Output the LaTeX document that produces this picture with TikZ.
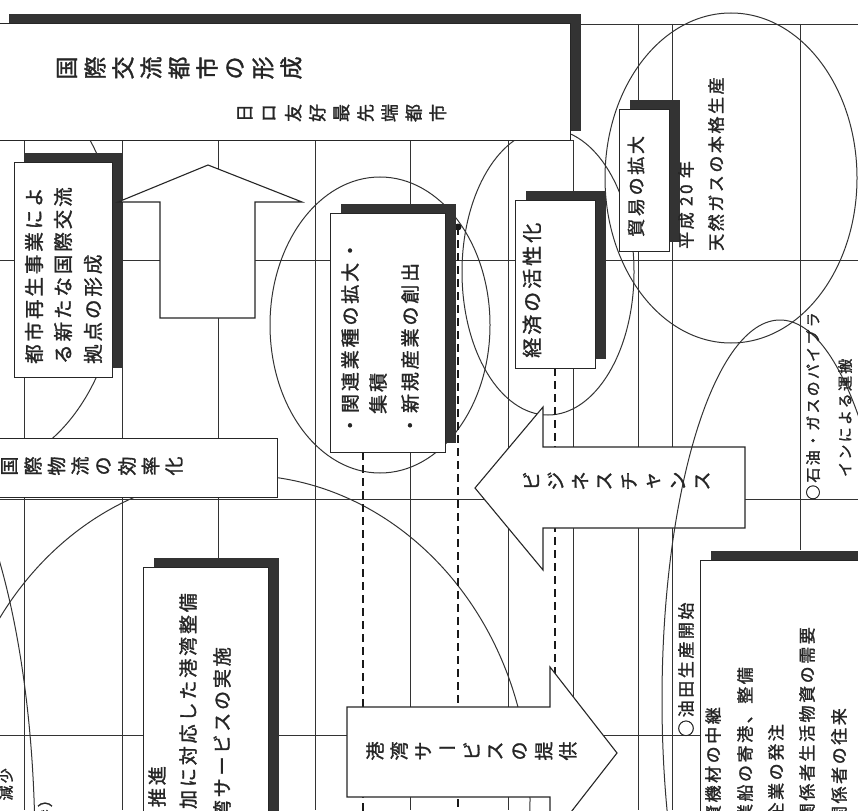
\documentclass[tikz,border=0pt]{standalone}
\usepackage{fontspec}
\usetikzlibrary{shadows}
\newfontfamily\jp[LetterSpace=15, FakeBold=1.5]{Noto Sans CJK JP}
\newfontfamily\jpg[FakeBold=1.5]{Noto Sans CJK JP}
\newcommand\jfs[1]{\fontsize{#1pt}{#1pt}\selectfont}
\tikzset{
  gridline/.style={draw=black!80, line width=0.9pt},
  ell/.style={draw=black!80, line width=1pt},
  boxw/.style={draw=black!85, line width=1.1pt, fill=white, inner sep=0pt, anchor=north west},
  sh/.style={general shadow={fill=black!80, shadow xshift=10pt, shadow yshift=10pt}},
  arrowshape/.style={draw=black!85, line width=1.1pt, fill=white},
  dashl/.style={draw=black!90, line width=2.6pt, dash pattern=on 8pt off 5pt},
  coltext/.style={rotate=90, inner sep=0pt, text=black!85},
  rglyph/.style={inner sep=0pt, text=black!85},
}
\begin{document}
\begin{tikzpicture}[x=1pt,y=-1pt]
\fill[white] (0,0) rectangle (858,810);
\useasboundingbox (0,0) rectangle (858,810);
\clip (0,0) rectangle (858,810);

% table grid
\draw[gridline] (0,24) -- (858,24);
\draw[gridline] (0,140) -- (573,140);
\draw[gridline] (0,260) -- (858,260);
\draw[gridline] (0,499) -- (858,499);
\draw[gridline] (0,735) -- (700,735);
\foreach \gx in {24,122,218,315,410,508,573}
  \draw[gridline] (\gx,140) -- (\gx,810);
\foreach \gx in {638,672}
  \draw[gridline] (\gx,24) -- (\gx,810);
\draw[gridline] (800,24) -- (800,550);

% ellipses
\draw[ell] (-25,265) ellipse [x radius=145pt, y radius=205pt];
\draw[ell] (380,325) ellipse [x radius=110pt, y radius=148pt];
\draw[ell] (548,272) ellipse [x radius=86pt, y radius=143pt];
\draw[ell] (731,178) ellipse [x radius=126pt, y radius=165pt];
\draw[ell] (240,800) ellipse [x radius=290pt, y radius=325pt];
\draw[ell] (-105,850) ellipse [x radius=140pt, y radius=434pt];

% dashed connectors
\coordinate (d1a) at (363,452); \coordinate (d1b) at (363,812);
\coordinate (d2a) at (458,227); \coordinate (d2b) at (458,812);
\coordinate (d3a) at (555,368); \coordinate (d3b) at (555,812);
\draw[dashl] (d1a) -- (d1b);
\draw[dashl] (d2a) -- (d2b);
\draw[dashl] (d3a) -- (d3b);
\fill[black!90] (d2a) circle (3.5pt);

% boxes
\node[boxw, sh, minimum width=572pt, minimum height=117pt] (topbox) at (-2,23) {};
\node[boxw, sh, minimum width=98pt, minimum height=215pt] (toshi) at (14,162) {};
\node[boxw, sh, minimum width=115pt, minimum height=239pt] (kanren) at (330,213) {};
\node[boxw, sh, minimum width=80pt, minimum height=168pt] (keizai) at (515,200) {};
\node[boxw, sh, minimum width=50pt, minimum height=142pt] (boeki) at (619,109) {};
\node[boxw, sh, minimum width=125pt, minimum height=260pt] (kowanbox) at (143,567) {};
\node[boxw, minimum width=282pt, minimum height=59pt] (butsuryu) at (-5,438) {};

% block arrows
\draw[arrowshape] (208,165) -- (302,202) -- (255,202) -- (255,318) -- (160,318) -- (160,202) -- (118,202) -- cycle;
\draw[arrowshape] (475,488) -- (543,407) -- (543,447) -- (745,447) -- (745,528) -- (543,528) -- (543,570) -- cycle;
\draw[arrowshape] (347,707) -- (550,707) -- (550,667) -- (617,753) -- (550,839) -- (550,797) -- (347,797) -- cycle;

\draw[ell] (780,700) ellipse [x radius=118pt, y radius=380pt];
\node[boxw, sh, minimum width=170pt, minimum height=270pt] (sakhalin) at (700,560) {};

% rotated single glyph labels
\foreach \c [count=\i from 0] in {国,際,交,流,都,市,の,形,成}
  \node[rglyph, rotate=90, font=\jpg\jfs{23}] (ta\i) at ({67+28*\i},68) {\c};
\foreach \c [count=\i from 0] in {日,ロ,友,好,最,先,端,都,市}
  \node[rglyph, rotate=90, font=\jpg\jfs{18}] (tb\i) at ({245+24.1*\i},113) {\c};
\foreach \c [count=\i from 0] in {国,際,物,流,の,効,率,化}
  \node[rglyph, rotate=90, font=\jpg\jfs{19}] (tc\i) at ({9.5+23.5*\i},466) {\c};
\foreach \c/\r [count=\i from 0] in {港/90,湾/90,サ/90,ー/0,ビ/90,ス/90,の/90,提/90,供/90}
  \node[rglyph, rotate=\r, font=\jpg\jfs{19}] (td\i) at ({375+24.1*\i},751) {\c};
\foreach \c [count=\i from 0] in {ビ,ジ,ネ,ス,チ,ャ,ン,ス}
  \node[rglyph, rotate=90, font=\jpg\jfs{19}] (te\i) at ({531+24.5*\i},481) {\c};

% column texts (read bottom to top)
\node[coltext, anchor=west, font=\jp\jfs{19.5}] (t1a) at (34,364) {都市再生事業によ};
\node[coltext, anchor=west, font=\jp\jfs{19.5}] (t1b) at (63,364) {る新たな国際交流};
\node[coltext, anchor=west, font=\jp\jfs{19.5}] (t1c) at (93,364) {拠点の形成};

\node[coltext, anchor=west, font=\jp\jfs{19}] (t2a) at (350,435) {・関連業種の拡大・};
\node[coltext, anchor=west, font=\jp\jfs{19}] (t2b) at (378,414) {集積};
\node[coltext, anchor=west, font=\jp\jfs{19}] (t2c) at (410,435) {・新規産業の創出};

\node[coltext, anchor=west, font=\jp\jfs{20}] (t3) at (532,358) {経済の活性化};
\node[coltext, anchor=west, font=\jp\jfs{18}] (t4) at (636,237) {貿易の拡大};
\node[coltext, anchor=west, font=\jp\jfs{17}] (t5a) at (686,249) {平成 20 年};
\node[coltext, anchor=west, font=\jp\jfs{17}] (t5b) at (716,251) {天然ガスの本格生産};
\node[coltext, anchor=west, font=\jp\jfs{15}] (t6a) at (813,500) {○石油・ガスのパイプラ};
\node[coltext, anchor=west, font=\jp\jfs{15}] (t6b) at (845,477) {インによる運搬};
\node[coltext, anchor=west, font=\jp\jfs{17}] (t7) at (686,737) {○油田生産開始};

\node[coltext, anchor=east, font=\jp\jfs{17}] (t8a) at (713,707) {資機材の中継};
\node[coltext, anchor=east, font=\jp\jfs{17}] (t8b) at (745,667) {作業船の寄港、整備};
\node[coltext, anchor=east, font=\jp\jfs{17}] (t8c) at (776,724) {関連企業の発注};
\node[coltext, anchor=east, font=\jp\jfs{17}] (t8d) at (807,627) {関係者生活物資の需要};
\node[coltext, anchor=east, font=\jp\jfs{17}] (t8e) at (839,708) {関係者の往来};

\node[coltext, anchor=east, font=\jp\jfs{19}] (t9a) at (157,766) {推進};
\node[coltext, anchor=east, font=\jp\jfs{19}] (t9b) at (188,593) {貨物の増加に対応した港湾整備};
\node[coltext, anchor=east, font=\jp\jfs{19}] (t9c) at (222,647) {港湾サービスの実施};

\node[coltext, anchor=east, font=\jp\jfs{15}] (t10a) at (6,768) {減少};
\node[coltext, anchor=east, font=\jp\jfs{15}] (t10b) at (45,792) {（参）};
\end{tikzpicture}
\end{document}
